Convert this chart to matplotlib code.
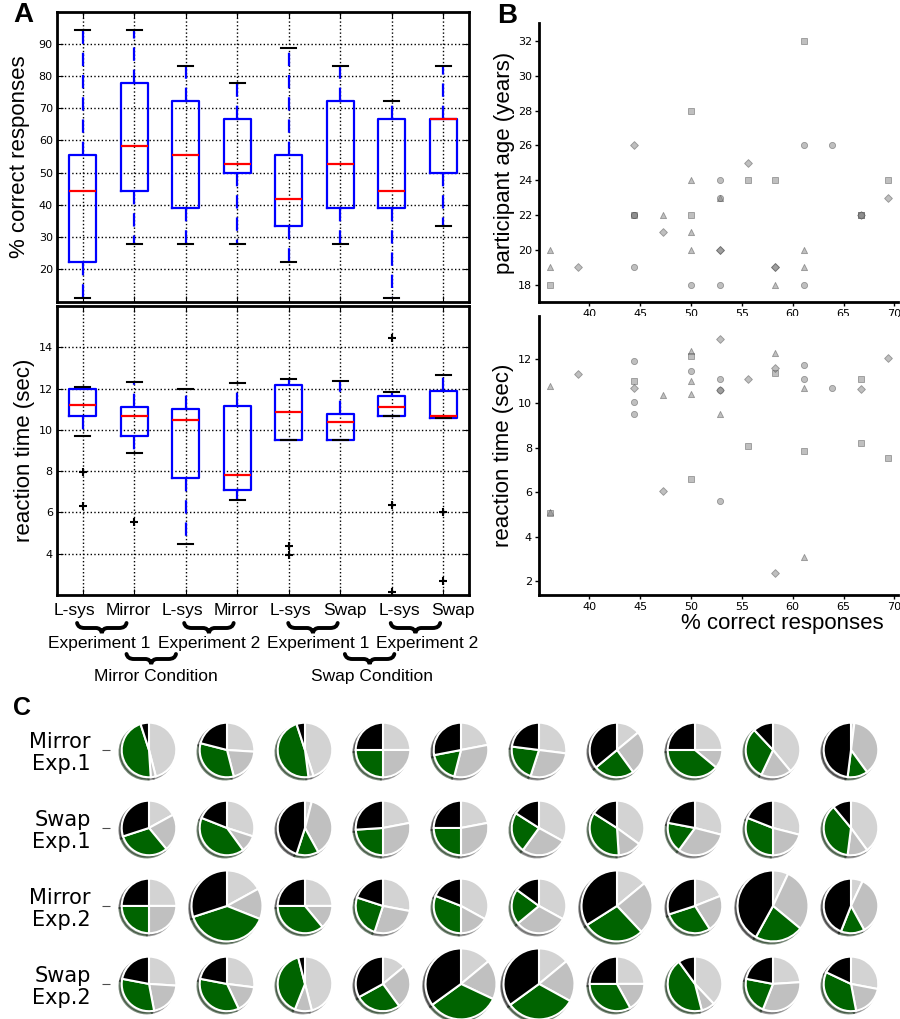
import matplotlib
matplotlib.use('Agg')
import matplotlib.pyplot as plt
import matplotlib.transforms as mtransforms
from matplotlib.path import Path
from matplotlib.patches import PathPatch
import numpy as np

W, H = 900, 1019

# ---------------- panel A: box summaries ----------------
box_names = ['L-sys', 'Mirror', 'L-sys', 'Mirror', 'L-sys', 'Swap', 'L-sys', 'Swap']

acc_whislo = [11.1, 27.8, 27.8, 27.8, 22.2, 27.8, 11.1, 33.3]
acc_q1 = [22.2, 44.4, 38.9, 50.0, 33.3, 38.9, 38.9, 50.0]
acc_med = [44.4, 58.3, 55.6, 52.8, 41.7, 52.8, 44.4, 66.7]
acc_q3 = [55.6, 77.8, 72.2, 66.7, 55.6, 72.2, 66.7, 66.7]
acc_whishi = [94.4, 94.4, 83.3, 77.8, 88.9, 83.3, 72.2, 83.3]
acc_fliers = [[], [], [], [], [], [], [], []]

rt_whislo = [9.71, 8.87, 4.45, 6.60, 9.50, 9.52, 10.65, 10.56]
rt_q1 = [10.65, 9.68, 7.68, 7.10, 9.50, 9.52, 10.65, 10.56]
rt_med = [11.18, 10.68, 10.48, 7.82, 10.87, 10.39, 11.13, 10.68]
rt_q3 = [11.97, 11.10, 11.02, 11.15, 12.15, 10.76, 11.65, 11.90]
rt_whishi = [12.06, 12.32, 11.97, 12.27, 12.45, 12.37, 11.81, 12.65]
rt_fliers = [[7.95, 6.29], [5.55], [], [], [4.39, 3.95], [], [14.47, 6.34, 2.13], [6.03, 2.69]]

exp_labels = ['Experiment 1', 'Experiment 2', 'Experiment 1', 'Experiment 2']
cond_labels = ['Mirror Condition', 'Swap Condition']

# ---------------- panel B: participants ----------------
tri_x = [36.1, 36.1, 47.2, 50.0, 50.0, 50.0, 52.8, 58.3, 61.1, 61.1]
tri_age = [20, 19, 22, 24, 21, 20, 23, 18, 20, 19]
tri_rt = [10.75, 5.1, 10.35, 12.35, 11.0, 10.4, 9.5, 12.25, 10.7, 3.1]

circ_x = [44.4, 44.4, 44.4, 50.0, 52.8, 52.8, 52.8, 61.1, 61.1, 63.9]
circ_age = [19, 22, 22, 18, 18, 24, 23, 26, 18, 26]
circ_rt = [11.9, 10.05, 9.5, 11.45, 11.1, 10.6, 5.6, 11.7, 11.1, 10.7]

sq_x = [36.1, 44.4, 50.0, 50.0, 55.6, 58.3, 61.1, 66.7, 66.7, 69.4]
sq_age = [18, 22, 28, 22, 24, 24, 32, 22, 22, 24]
sq_rt = [5.05, 11.0, 12.1, 6.6, 8.05, 11.35, 7.85, 11.1, 8.2, 7.55]

dia_x = [38.9, 44.4, 47.2, 52.8, 52.8, 55.6, 58.3, 58.3, 66.7, 69.4]
dia_age = [19, 26, 21, 20, 20, 25, 19, 19, 22, 23]
dia_rt = [11.3, 10.7, 6.05, 12.9, 10.6, 11.1, 11.6, 2.35, 10.65, 12.05]

# ---------------- panel C: response shares per participant ----------------
row_labels = ['Mirror\nExp.1', 'Swap\nExp.1', 'Mirror\nExp.2', 'Swap\nExp.2']
mirror1 = [[46, 3, 46, 5], [26, 20, 33, 21], [45, 3, 47, 5], [25, 25, 25, 25], [22, 32, 18, 28],
           [27, 28, 22, 23], [14, 26, 24, 36], [25, 11, 39, 25], [39, 18, 31, 12], [2, 38, 12, 48]]
swap1 = [[17, 22, 31, 30], [30, 10, 41, 19], [4, 38, 13, 45], [22, 28, 24, 26], [22, 28, 25, 25],
         [33, 27, 24, 16], [35, 14, 35, 16], [29, 31, 18, 22], [29, 21, 31, 19], [40, 12, 37, 11]]
mirror2 = [[25, 25, 25, 25], [17, 14, 39, 30], [25, 14, 36, 25], [28, 27, 25, 20], [33, 17, 31, 19],
           [33, 31, 21, 15], [14, 24, 28, 34], [19, 22, 29, 30], [7, 29, 22, 42], [7, 35, 14, 44]]
swap2 = [[26, 21, 31, 22], [27, 16, 35, 22], [46, 10, 40, 4], [14, 26, 27, 33], [14, 18, 33, 35],
         [14, 19, 32, 35], [25, 17, 33, 25], [38, 8, 44, 10], [24, 32, 22, 22], [28, 19, 35, 18]]
# relative pie size (1 = normal)
size1 = [1, 1, 1, 1, 1, 1, 1, 1, 1, 1]
size2 = [1, 1, 1, 1, 1, 1, 1, 1, 1, 1]
size3 = [1, 1.3, 1, 1, 1, 1, 1.3, 1, 1.3, 1]
size4 = [1, 1, 1, 1, 1.3, 1.3, 1, 1, 1, 1]
pie_colors = ['#d3d3d3', '#c0c0c0', '#006400', 'black']

label_font = 'Liberation Sans'

fig = plt.figure(figsize=(9, 10.19), dpi=100)


def px_axes(left, top, right, bottom):
    return fig.add_axes([left / W, 1 - bottom / H, (right - left) / W, (bottom - top) / H])


def box_panel(ax, lo, q1, med, q3, hi, fl, ylim, yticks):
    stats = [dict(whislo=a, q1=b, med=c, q3=d, whishi=e, fliers=f)
             for a, b, c, d, e, f in zip(lo, q1, med, q3, hi, fl)]
    ax.bxp(stats, positions=range(1, 9), widths=0.52, capwidths=0.3, manage_ticks=False,
           boxprops=dict(color='blue', lw=1.6),
           whiskerprops=dict(color='blue', lw=1.6, linestyle=(0, (6, 4))),
           medianprops=dict(color='red', lw=1.6),
           capprops=dict(color='black', lw=1.5),
           flierprops=dict(marker='+', markeredgecolor='black', markersize=6, markeredgewidth=1.5))
    ax.set_xlim(0.5, 8.5)
    ax.set_ylim(*ylim)
    ax.set_xticks(range(1, 9))
    ax.set_xticklabels([])
    ax.set_yticks(yticks)
    ax.set_axisbelow(True)
    ax.grid(True, color='black', linestyle=':', linewidth=1)
    ax.tick_params(direction='in', top=True, right=True, length=4, labelsize=8, pad=3)
    for s in ax.spines.values():
        s.set_linewidth(2)


ax_acc = px_axes(57, 12, 469, 302)
box_panel(ax_acc, acc_whislo, acc_q1, acc_med, acc_q3, acc_whishi, acc_fliers,
          (9.7, 100), range(20, 100, 10))
ax_acc.set_ylabel('% correct responses', fontsize=16, family=label_font)
ax_acc.yaxis.set_label_coords(-0.066, 0.5)

ax_rt = px_axes(57, 306, 469, 595)
box_panel(ax_rt, rt_whislo, rt_q1, rt_med, rt_q3, rt_whishi, rt_fliers,
          (2.0, 16.0), range(4, 16, 2))
ax_rt.set_ylabel('reaction time (sec)', fontsize=16, family=label_font)
ax_rt.yaxis.set_label_coords(-0.053, 0.5)

# group labels under the reaction time plot
trans = mtransforms.blended_transform_factory(ax_rt.transData, fig.transFigure)
name_x = [0.83, 1.88, 2.94, 3.99, 5.04, 6.09, 7.14, 8.18]
for xx, name in zip(name_x, box_names):
    fig.text(xx, 1 - 615 / H, name, transform=trans, ha='center', va='baseline',
             fontsize=12.5, family=label_font)


def brace(xc, y_top, width=0.96, height=10):
    u = np.array([0, 0.02, 0.15, 0.38, 0.48, 0.5, 0.52, 0.62, 0.85, 0.98, 1.0])
    v = np.array([0, 0.5, 0.5, 0.5, 0.5, 1.0, 0.5, 0.5, 0.5, 0.5, 0])
    codes = [Path.MOVETO, Path.CURVE3, Path.CURVE3, Path.LINETO, Path.CURVE3, Path.CURVE3,
             Path.CURVE3, Path.CURVE3, Path.LINETO, Path.CURVE3, Path.CURVE3]
    verts = np.column_stack([xc - width / 2 + u * width, 1 - (y_top + v * height) / H])
    fig.add_artist(PathPatch(Path(verts, codes), transform=trans, fill=False,
                             lw=2.8, color='black', capstyle='round'))


exp_brace_x = [1.37, 3.45, 5.47, 7.46]
exp_text_x = [1.32, 3.45, 5.57, 7.68]
for bx, tx, lab in zip(exp_brace_x, exp_text_x, exp_labels):
    brace(bx, 623)
    fig.text(tx, 1 - 648 / H, lab, transform=trans, ha='center', va='baseline',
             fontsize=12.5, family=label_font)

cond_brace_x = [2.33, 6.57]
cond_text_x = [2.42, 6.62]
for bx, tx, lab in zip(cond_brace_x, cond_text_x, cond_labels):
    brace(bx, 654)
    fig.text(tx, 1 - 681 / H, lab, transform=trans, ha='center', va='baseline',
             fontsize=12.5, family=label_font)

# ---------------- panel B ----------------
groups = [('^', tri_x, tri_age, tri_rt, 20), ('o', circ_x, circ_age, circ_rt, 20),
          ('s', sq_x, sq_age, sq_rt, 18), ('D', dia_x, dia_age, dia_rt, 16)]


def scatter_panel(ax, which, ylim, yticks):
    for m, xs, ages, rts, s in groups:
        ys = ages if which == 'age' else rts
        ax.scatter(xs, ys, marker=m, s=s, facecolor='0.5', edgecolor='0.3',
                   linewidths=0.6, alpha=0.5)
    ax.set_xlim(35.05, 70.35)
    ax.set_ylim(*ylim)
    ax.set_xticks(range(40, 75, 5))
    ax.set_yticks(yticks)
    ax.spines['top'].set_visible(False)
    ax.spines['right'].set_visible(False)
    ax.spines['left'].set_linewidth(2)
    ax.spines['bottom'].set_linewidth(2)
    ax.tick_params(direction='out', length=3, width=1, labelsize=8, pad=2)


ax_age = px_axes(539, 23, 898, 302)
scatter_panel(ax_age, 'age', (17.0, 33.03), range(18, 34, 2))
ax_age.set_ylabel('participant age (years)', fontsize=16, family=label_font)
ax_age.yaxis.set_label_coords(-0.068, 0.5)

ax_brt = px_axes(539, 316, 898, 595)
scatter_panel(ax_brt, 'rt', (1.37, 13.92), range(2, 14, 2))
ax_brt.set_ylabel('reaction time (sec)', fontsize=16, family=label_font)
ax_brt.yaxis.set_label_coords(-0.07, 0.5)
ax_brt.set_xlabel('% correct responses', fontsize=16, family=label_font)
ax_brt.xaxis.set_label_coords(0.677, -0.0645)

# ---------------- panel C ----------------
ax_pie = px_axes(110, 711, 890, 1019)
rows = [mirror1, swap1, mirror2, swap2]
sizes = [size1, size2, size3, size4]
for r, (row, sz) in enumerate(zip(rows, sizes)):
    yc = 3 - r
    for c, (fr, s) in enumerate(zip(row, sz)):
        ax_pie.pie(fr, colors=pie_colors, startangle=90, counterclock=False,
                   center=(c, yc), radius=0.35 * s, shadow=True, frame=True,
                   wedgeprops=dict(edgecolor='white', linewidth=1.5))
ax_pie.set_aspect('auto')
ax_pie.set_xlim(-0.5, 9.5)
ax_pie.set_ylim(-0.45, 3.5)
ax_pie.set_xticks([])
ax_pie.set_yticks([3, 2, 1, 0])
ax_pie.set_yticklabels(row_labels, fontsize=15, linespacing=1.1)
ax_pie.tick_params(axis='y', length=6, width=0.8, color='0.3', pad=8)
for s in ax_pie.spines.values():
    s.set_visible(False)

# panel letters
fig.text(13 / W, 1 - 2 / H, 'A', fontsize=20, weight='bold', family=label_font, va='top')
fig.text(497 / W, 1 - 3 / H, 'B', fontsize=20, weight='bold', family=label_font, va='top')
fig.text(13 / W, 1 - 696 / H, 'C', fontsize=18, weight='bold', family=label_font, va='top')

fig.savefig('out.png', dpi=100)
